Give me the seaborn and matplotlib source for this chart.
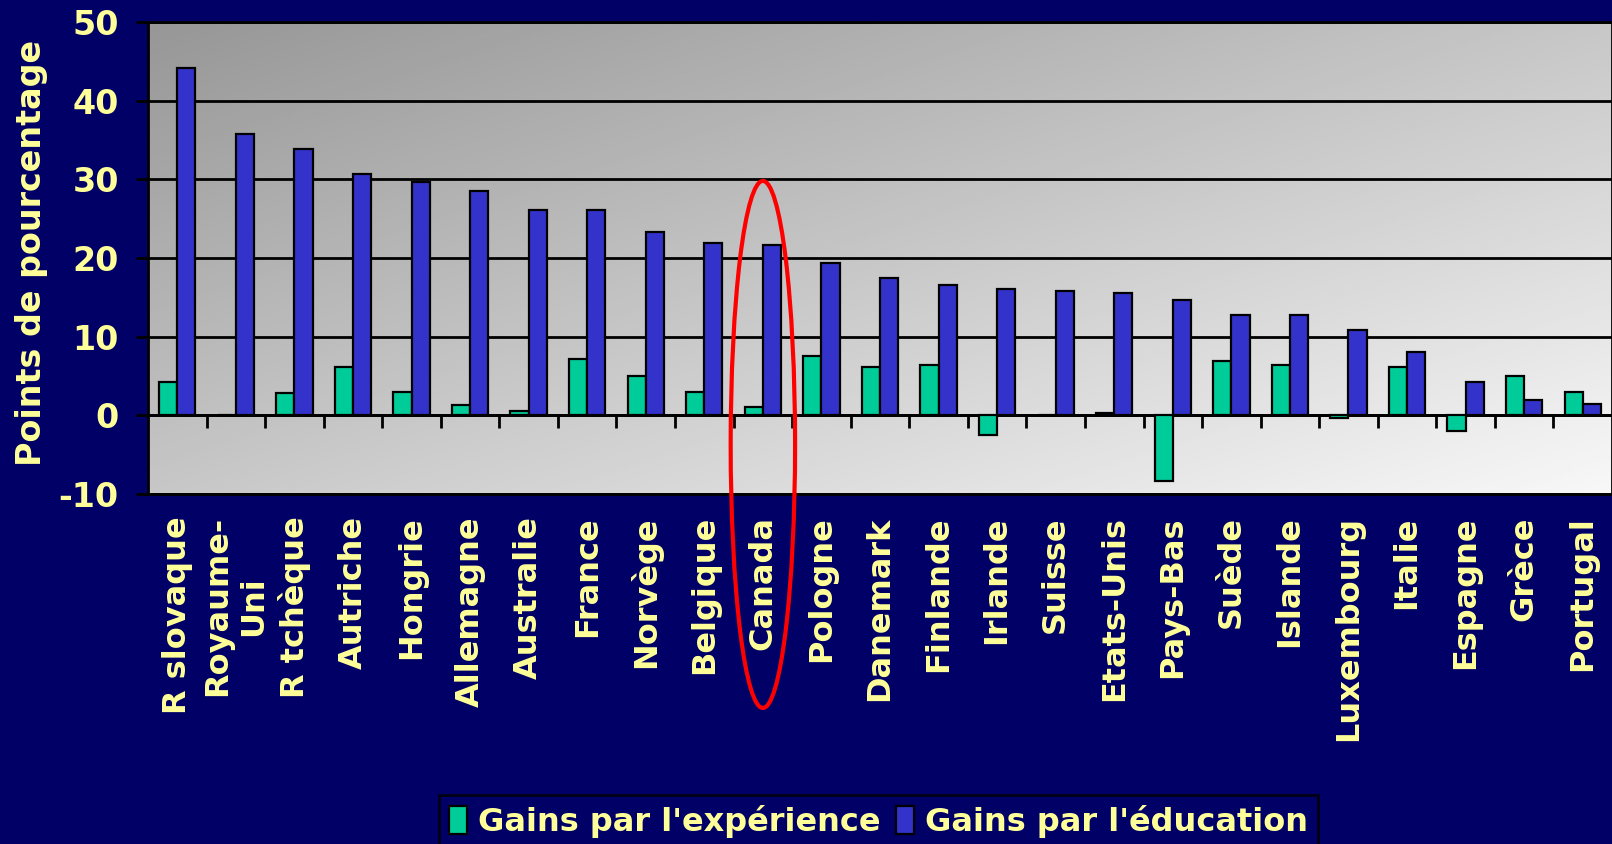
import numpy as np
import pandas as pd
import matplotlib
matplotlib.use("Agg")
import matplotlib.pyplot as plt
from matplotlib.patches import Ellipse
import seaborn as sns

# ---- data ----
pays = ["R slovaque", "Royaume-\nUni", "R tchèque", "Autriche", "Hongrie", "Allemagne",
        "Australie", "France", "Norvège", "Belgique", "Canada", "Pologne", "Danemark",
        "Finlande", "Irlande", "Suisse", "Etats-Unis", "Pays-Bas", "Suède", "Islande",
        "Luxembourg", "Italie", "Espagne", "Grèce", "Portugal"]
gains_experience = [4.2, 0.0, 2.8, 6.1, 3.0, 1.3, 0.5, 7.2, 5.0, 3.0, 1.1, 7.5, 6.1,
                    6.4, -2.5, 0.0, 0.3, -8.4, 6.9, 6.4, -0.4, 6.1, -2.0, 5.0, 3.0]
gains_education = [44.1, 35.7, 33.8, 30.7, 29.7, 28.5, 26.1, 26.1, 23.3, 21.9, 21.6, 19.4, 17.4,
                   16.6, 16.1, 15.8, 15.6, 14.7, 12.8, 12.8, 10.9, 8.1, 4.2, 2.0, 1.4]
series = ["Gains par l'expérience", "Gains par l'éducation"]
y_ticks = [-10, 0, 10, 20, 30, 40, 50]

navy = "#000066"
yellow = "#FFFF99"
green = "#00CC99"
blue = "#3333CC"

plt.rcParams["font.family"] = ["DejaVu Sans"]
plt.rcParams["font.weight"] = "bold"
plt.rcParams["axes.unicode_minus"] = False

df = pd.DataFrame({
    "pays": pays * 2,
    "valeur": gains_experience + gains_education,
    "serie": [series[0]] * len(pays) + [series[1]] * len(pays),
})

fig = plt.figure(figsize=(16.12, 8.44), dpi=100, facecolor=navy)
ax = fig.add_axes([148 / 1612, 1 - 494 / 844, 1 - 148 / 1612, (494 - 22) / 844])

# gradient background: dark top-left, light bottom-right
gx, gy = np.meshgrid(np.linspace(0, 1, 200), np.linspace(0, 1, 200))
grad = 0.59 + 0.38 * (gx + (1 - gy)) / 2
ax.imshow(grad, cmap="gray", vmin=0, vmax=1, extent=[0, 1, 0, 1], origin="lower",
          aspect="auto", transform=ax.transAxes, zorder=0)

sns.barplot(data=df, x="pays", y="valeur", hue="serie", palette=[green, blue],
            saturation=1, width=0.62, gap=0, edgecolor="black", linewidth=1.6,
            ax=ax, zorder=3)

ax.set_ylim(-10, 50)
ax.set_xlim(-0.5, len(pays) - 0.5)
ax.set_yticks(y_ticks)
ax.set_yticklabels([str(t) for t in y_ticks])
ax.grid(axis="y", color="black", linewidth=2)
ax.grid(axis="x", visible=False)
ax.set_axisbelow(True)
for s in ax.spines.values():
    s.set_color("black")
    s.set_linewidth(2)

ax.tick_params(axis="y", colors="black", length=9, width=2, direction="out",
               labelsize=24, labelcolor=yellow, pad=12)
ax.tick_params(axis="x", length=0, labelsize=23, labelcolor=yellow, pad=16)
for lab in ax.get_xticklabels():
    lab.set_rotation(90)
    lab.set_ha("center")
    lab.set_va("top")
    lab.set_multialignment("center")
    lab.set_fontweight("bold")
for lab in ax.get_yticklabels():
    lab.set_fontweight("bold")

ax.set_xlabel("")
ax.set_ylabel("Points de pourcentage", color=yellow, fontsize=24, fontweight="bold")
ax.yaxis.set_label_coords(-0.068, 0.51)

# zero line with category boundary ticks
zero = ax.secondary_xaxis((0 - y_ticks[0]) / (y_ticks[-1] - y_ticks[0]))
zero.set_xticks(np.arange(0.5, len(pays) - 0.5, 1))
zero.tick_params(axis="x", direction="out", length=9, width=2, color="black", labelbottom=False)
zero.spines["bottom"].set_linewidth(2)
zero.spines["bottom"].set_color("black")

# highlight Canada
ic = pays.index("Canada")
ax.add_patch(Ellipse((ic, -3.7), width=1.1, height=67, fill=False, edgecolor="red",
                     linewidth=3, clip_on=False, zorder=6))

handles, labels = ax.get_legend_handles_labels()
ax.get_legend().remove()
leg = ax.legend(handles, labels, loc="lower center", bbox_to_anchor=(0.545, -0.004),
                bbox_transform=fig.transFigure, ncol=2, frameon=True, fancybox=False,
                facecolor=navy, edgecolor="black", fontsize=23, handlelength=0.55,
                handleheight=1.0, handletextpad=0.35, columnspacing=0.5,
                borderpad=0.3, borderaxespad=0)
leg.get_frame().set_linewidth(2)
for t in leg.get_texts():
    t.set_color(yellow)
    t.set_fontweight("bold")

fig.savefig("out.png", dpi=100, facecolor=navy)
